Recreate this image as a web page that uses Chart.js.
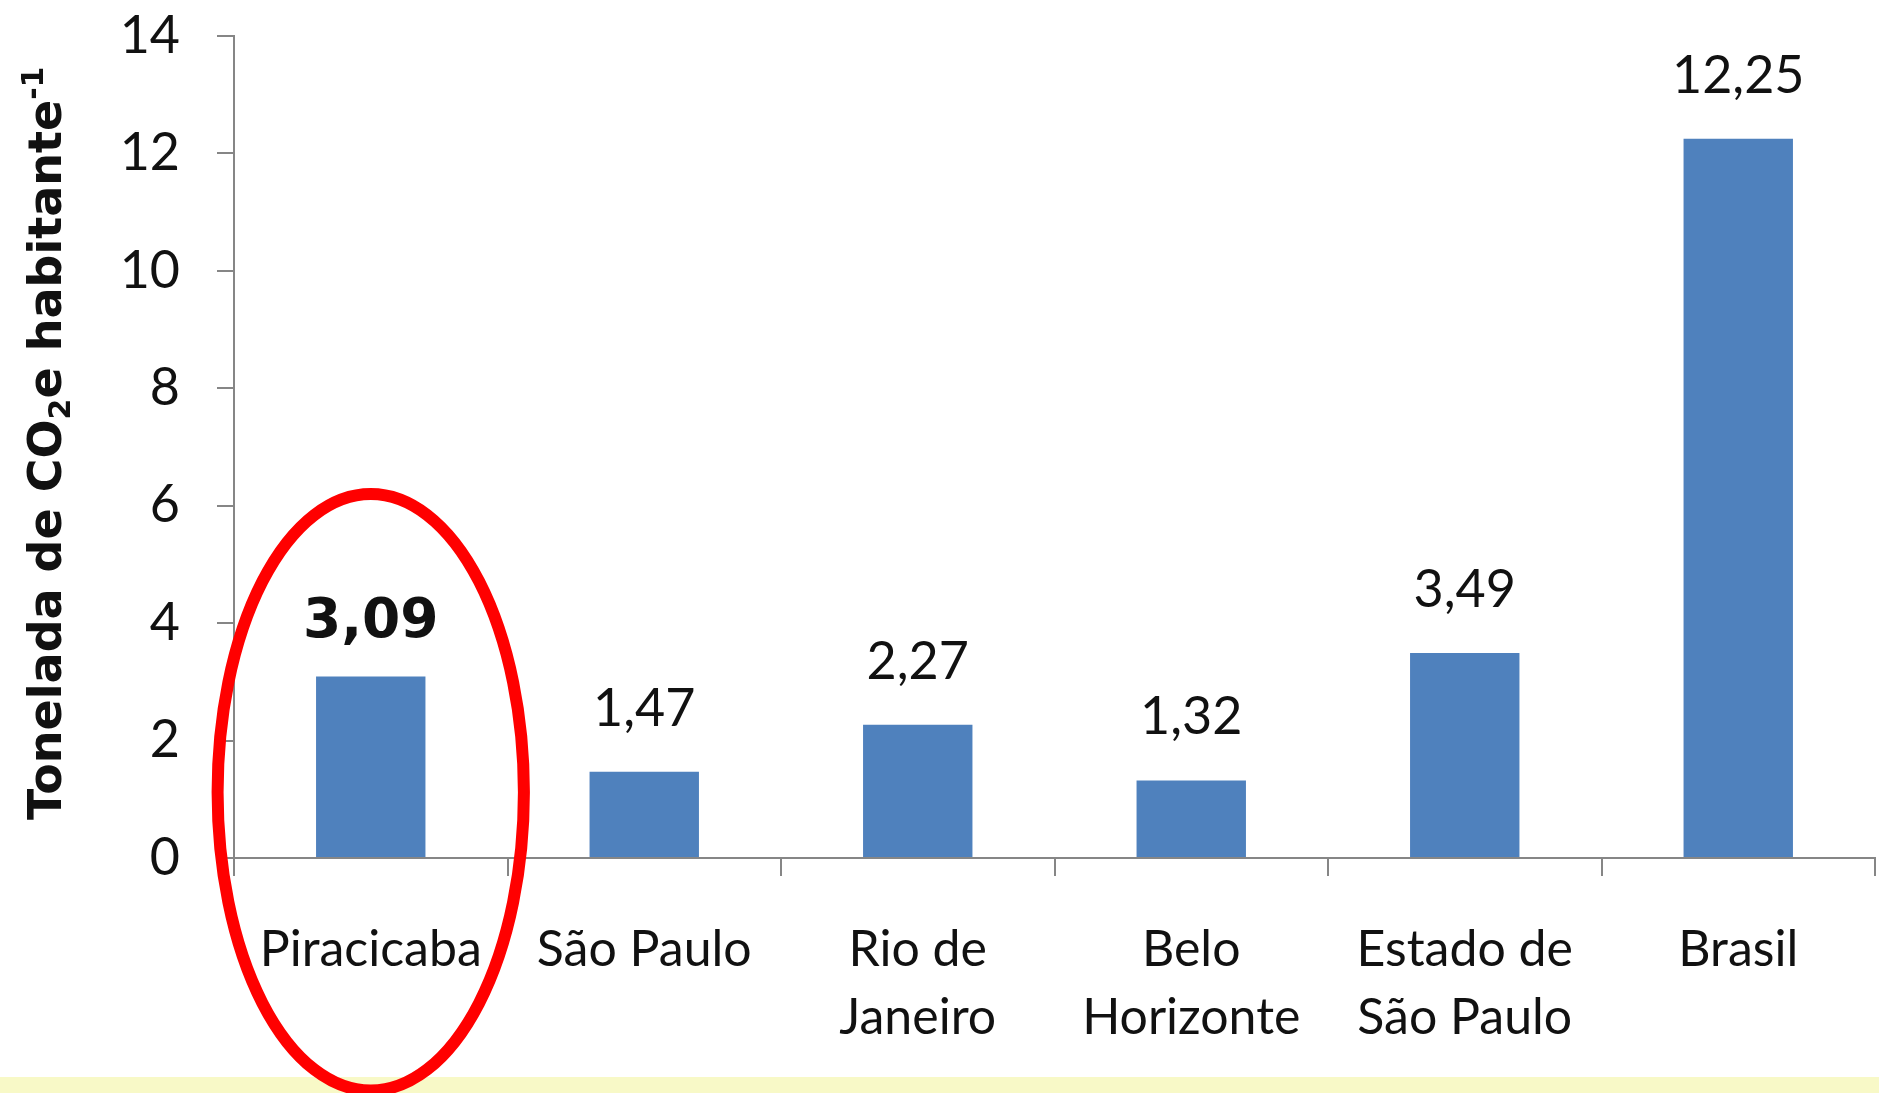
<!DOCTYPE html>
<html>
<head>
<meta charset="utf-8">
<title>Emissões de CO2e por habitante</title>
<script src="https://cdn.jsdelivr.net/npm/chart.js@4.4.1/dist/chart.umd.min.js"></script>
<style>
  html, body { margin: 0; padding: 0; background: #ffffff; overflow: hidden; }
  #wrap { position: relative; width: 1879px; height: 1093px; }
</style>
</head>
<body>
<div id="wrap"><canvas id="co2-chart"></canvas></div>
<script>
// --- data ---
const cities = [['Piracicaba'], ['São Paulo'], ['Rio de', 'Janeiro'], ['Belo', 'Horizonte'], ['Estado de', 'São Paulo'], ['Brasil']];
const emissions = [3.09, 1.47, 2.27, 1.32, 3.49, 12.25];
const yTicks = [0, 2, 4, 6, 8, 10, 12, 14];
const highlighted = 0; // Piracicaba: bold label + red ring

const BAR_BLUE = '#4f81bd';
const AXIS_GREY = '#868686';
const STRIP_YELLOW = '#f8f9c7';
const TEXT = '#111111';

const fmt = v => v.toFixed(2).replace('.', ',');

// white page with the pale yellow strip along the bottom
const backgroundPlugin = {
    id: 'background',
    beforeDraw(chart) {
        const { ctx, width, height } = chart;
        ctx.save();
        ctx.fillStyle = '#ffffff';
        ctx.fillRect(0, 0, width, height);
        ctx.fillStyle = STRIP_YELLOW;
        ctx.fillRect(0, 1077, width, height - 1077);
        ctx.restore();
    }
};

// numbers above the bars
const valueLabelsPlugin = {
    id: 'valueLabels',
    afterDatasetsDraw(chart) {
        const ctx = chart.ctx;
        const meta = chart.getDatasetMeta(0);
        ctx.save();
        ctx.textAlign = 'center';
        ctx.textBaseline = 'alphabetic';
        ctx.fillStyle = TEXT;
        meta.data.forEach((bar, i) => {
            const bold = i === highlighted;
            ctx.font = bold ? 'bold 55px "DejaVu Sans"' : '52px Lato';
            ctx.fillText(fmt(emissions[i]), bar.x, bar.y - (bold ? 40 : 46));
        });
        ctx.restore();
    }
};

// rotated y title with CO2 subscript and -1 superscript
const yTitlePlugin = {
    id: 'yTitle',
    afterDraw(chart) {
        const ctx = chart.ctx;
        const parts = [
            { t: 'Tonelada de CO', size: 46, dy: 0 },
            { t: '2', size: 30, dy: 9 },
            { t: 'e habitante', size: 46, dy: 0 },
            { t: '-1', size: 30, dy: -18 }
        ];
        ctx.save();
        ctx.translate(61, 820);
        ctx.rotate(-Math.PI / 2);
        ctx.fillStyle = TEXT;
        ctx.textBaseline = 'alphabetic';
        let x = 0;
        parts.forEach(p => {
            ctx.font = `bold ${p.size}px "DejaVu Sans"`;
            ctx.fillText(p.t, x, p.dy);
            x += ctx.measureText(p.t).width;
        });
        ctx.restore();
    }
};

// red ellipse around the first category
const ringPlugin = {
    id: 'ring',
    afterDraw(chart) {
        const { ctx, scales } = chart;
        const xs = scales.x, ys = scales.y;
        const cx = xs.getPixelForValue(highlighted);
        const catW = xs.getPixelForValue(1) - xs.getPixelForValue(0);
        const cy = ys.getPixelForValue(1.12);
        const ry = ys.getPixelForValue(0) - ys.getPixelForValue(5.08);
        ctx.save();
        ctx.strokeStyle = '#ff0000';
        ctx.lineWidth = 12;
        ctx.beginPath();
        ctx.ellipse(cx, cy, catW * 0.56, ry, 0, 0, Math.PI * 2);
        ctx.stroke();
        ctx.restore();
    }
};

const ctx = document.getElementById('co2-chart').getContext('2d');
new Chart(ctx, {
    type: 'bar',
    data: {
        labels: cities,
        datasets: [{
            data: emissions,
            backgroundColor: BAR_BLUE,
            borderWidth: 0,
            categoryPercentage: 1,
            barPercentage: 0.4
        }]
    },
    options: {
        responsive: true,
        maintainAspectRatio: false,
        animation: false,
        layout: { padding: { top: 36, right: 4, left: 0, bottom: 0 } },
        plugins: {
            legend: { display: false },
            tooltip: { enabled: false }
        },
        scales: {
            x: {
                grid: { drawOnChartArea: false, drawTicks: true, tickLength: 18, color: AXIS_GREY, lineWidth: 2, offset: true },
                border: { color: AXIS_GREY, width: 2 },
                ticks: {
                    color: TEXT,
                    font: { family: 'Lato', size: 50, lineHeight: 1.36 },
                    padding: 40,
                    maxRotation: 0,
                    autoSkip: false
                },
                afterFit(scale) { scale.height = 235; }
            },
            y: {
                min: 0,
                max: 14,
                afterBuildTicks(scale) { scale.ticks = yTicks.map(v => ({ value: v })); },
                grid: { drawOnChartArea: false, drawTicks: true, tickLength: 17, color: AXIS_GREY, lineWidth: 2 },
                border: { color: AXIS_GREY, width: 2 },
                ticks: {
                    color: TEXT,
                    font: { family: 'Lato', size: 52 },
                    padding: 37
                },
                afterFit(scale) {
                    scale.width = 234;
                    scale.paddingTop = 0;
                    scale.paddingBottom = 0;
                }
            }
        }
    },
    plugins: [backgroundPlugin, valueLabelsPlugin, yTitlePlugin, ringPlugin]
});
</script>
</body>
</html>
